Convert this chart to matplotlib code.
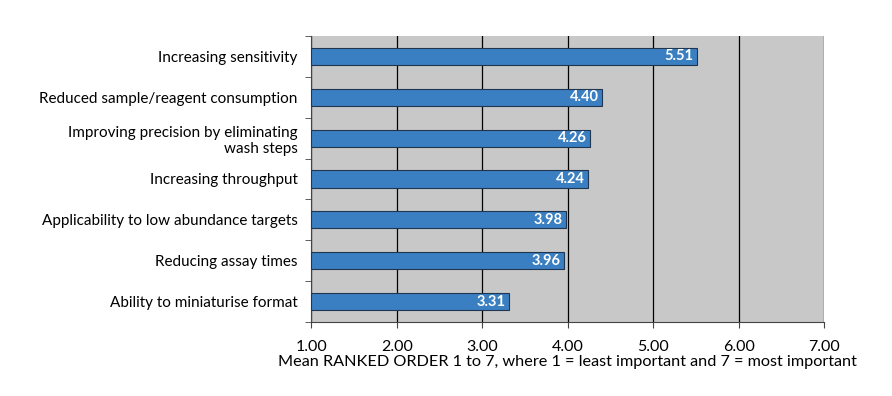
import matplotlib.pyplot as plt
import numpy as np

plt.rcParams['font.family'] = ['Lato', 'DejaVu Sans']

categories = ['Increasing sensitivity',
              'Reduced sample/reagent consumption',
              'Improving precision by eliminating\nwash steps',
              'Increasing throughput',
              'Applicability to low abundance targets',
              'Reducing assay times',
              'Ability to miniaturise format']
values = [5.51, 4.40, 4.26, 4.24, 3.98, 3.96, 3.31]
xticks = [1, 2, 3, 4, 5, 6, 7]
xlabel = 'Mean RANKED ORDER 1 to 7, where 1 = least important and 7 = most important'

fig = plt.figure(figsize=(8.92, 3.96), dpi=100)
ax = fig.add_axes([0.349, 0.187, 0.575, 0.722])
ax.set_facecolor('#c8c8c8')

y = np.arange(len(categories))
ax.barh(y, np.array(values) - 1, left=1, height=0.42,
        color='#3a7fc1', edgecolor='#1f3550', linewidth=0.8, zorder=3)
for yi, v in zip(y, values):
    ax.text(v - 0.04, yi, '%.2f' % v, ha='right', va='center',
            color='white', fontsize=10.5, fontweight='bold', zorder=4)

ax.set_xlim(1, 7)
ax.set_ylim(len(categories) - 0.5, -0.5)
ax.set_xticks(xticks)
ax.set_xticklabels(['%.2f' % t for t in xticks], fontsize=11.5)
ax.set_yticks(y)
ax.set_yticklabels(categories, fontsize=11, multialignment='right')
ax.tick_params(axis='y', length=0, pad=10)
ax.set_yticks(np.arange(len(categories) + 1) - 0.5, minor=True)
ax.tick_params(axis='y', which='minor', length=4, color='#444444')
ax.tick_params(axis='x', length=4, color='#444444', pad=9)
ax.grid(axis='x', color='black', linewidth=0.9, zorder=1)
ax.set_axisbelow(True)
for s in ['top', 'right']:
    ax.spines[s].set_visible(False)
ax.spines['left'].set_color('#444444')
ax.spines['bottom'].set_color('#444444')
ax.set_xlabel(xlabel, fontsize=11.7, labelpad=1)

fig.savefig('out.png', dpi=100)
